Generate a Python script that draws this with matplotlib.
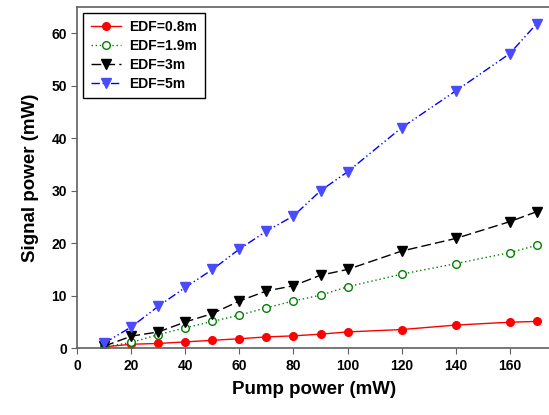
import matplotlib.pyplot as plt

pump = [10, 20, 30, 40, 50, 60, 70, 80, 90, 100, 120, 140, 160, 170]
edf_08 = [0.25, 0.75, 0.9, 1.2, 1.5, 1.8, 2.15, 2.35, 2.67, 3.1, 3.55, 4.4, 4.95, 5.1]
edf_19 = [0.25, 1.1, 2.6, 3.9, 5.1, 6.3, 7.7, 9.0, 10.1, 11.7, 14.1, 16.1, 18.2, 19.6]
edf_3 = [0.4, 2.3, 3.1, 5.0, 6.6, 9.0, 10.9, 11.9, 13.9, 15.0, 18.5, 20.9, 24.1, 26.0]
edf_5 = [1.0, 4.06, 8.0, 11.6, 15.0, 18.9, 22.3, 25.2, 30.0, 33.6, 42.0, 49.0, 56.1, 61.8]

plt.rcParams['font.family'] = ['Liberation Sans', 'DejaVu Sans']
plt.rcParams['font.weight'] = 'bold'

fig = plt.figure(figsize=(5.49, 4.15), dpi=100)
ax = fig.add_axes([0.141, 0.161, 0.861, 0.822])

ax.plot(pump, edf_08, color='red', linestyle='-', linewidth=1, marker='o',
        markersize=5.5, label='EDF=0.8m')
ax.plot(pump, edf_19, color='green', linestyle=(0, (1, 2)), linewidth=1, marker='o',
        markersize=5.5, markerfacecolor='white', markeredgecolor='green', label='EDF=1.9m')
ax.plot(pump, edf_3, color='black', linestyle=(0, (7, 3)), linewidth=1, marker='v',
        markersize=6.5, label='EDF=3m')
ax.plot(pump, edf_5, color='blue', linestyle=(0, (6, 2, 1, 2, 1, 2)), linewidth=1, marker='v',
        markersize=6.5, markerfacecolor='#4a4aff', markeredgecolor='#4a4aff', label='EDF=5m')

ax.set_xlim(0, 175)
ax.set_ylim(0, 65)
ax.set_xticks(range(0, 161, 20))
ax.set_yticks(range(0, 61, 10))

for side in ['left', 'bottom', 'top']:
    ax.spines[side].set_color('#606060')
    ax.spines[side].set_linewidth(1.2)
ax.spines['right'].set_visible(False)
ax.tick_params(direction='out', color='#606060', length=4, labelsize=10)
for lab in ax.get_xticklabels() + ax.get_yticklabels():
    lab.set_fontweight('bold')

ax.set_xlabel('Pump power (mW)', fontsize=13.5, fontweight='bold', labelpad=6)
ax.set_ylabel('Signal power (mW)', fontsize=13.5, fontweight='bold', labelpad=9)

leg = ax.legend(loc='upper left', fontsize=10, fancybox=False, framealpha=1,
                edgecolor='black', borderaxespad=0.4, handlelength=2.2,
                labelspacing=0.35, borderpad=0.55, handletextpad=0.6)
leg.get_frame().set_linewidth(1)
for t in leg.get_texts():
    t.set_fontweight('bold')

fig.savefig('out.png', dpi=100)
